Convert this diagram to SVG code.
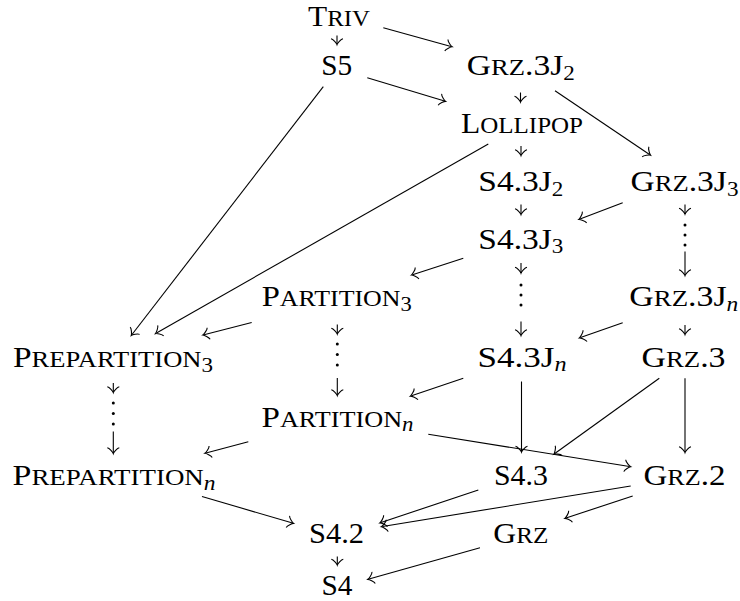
<svg xmlns="http://www.w3.org/2000/svg" width="740" height="601" viewBox="0 0 740 601">
<defs>
<style>
text{font-family:"Liberation Serif","Times New Roman",serif;font-size:29px;fill:#000;text-anchor:middle}
.sc{font-size:23px}
.sub{font-size:20px}
.it{font-style:italic}
#edges line{stroke:#000;stroke-width:1.1;fill:none;marker-end:url(#to)}
.dots circle{fill:#000}
</style>
<marker id="to" markerUnits="userSpaceOnUse" viewBox="-7 -8 10 16" refX="0" refY="0" markerWidth="10" markerHeight="16" orient="auto" overflow="visible">
<path d="M-4.8,-6 C-4.4,-3.8 0,-0.4 1.2,0 C0,0.4 -4.4,3.8 -4.8,6" fill="none" stroke="#000" stroke-width="1.1"/>
</marker>
</defs>
<g id="edges">
<line x1="337" y1="35.5" x2="337" y2="43.5"/>
<line x1="383.3" y1="27.7" x2="451" y2="46.5"/>
<line x1="367.3" y1="77.7" x2="444.5" y2="101"/>
<line x1="323.3" y1="86.7" x2="132" y2="334.5"/>
<line x1="520.5" y1="92.5" x2="520.5" y2="101"/>
<line x1="555" y1="90.7" x2="649.5" y2="154.5"/>
<line x1="521" y1="146" x2="521" y2="154.5"/>
<line x1="488.3" y1="144" x2="156.5" y2="333"/>
<line x1="521" y1="204.5" x2="521" y2="213.5"/>
<line x1="622.7" y1="202.7" x2="580" y2="219"/>
<line x1="685" y1="204.5" x2="685" y2="213"/>
<line x1="685" y1="251.5" x2="685" y2="274.5"/>
<line x1="521" y1="263" x2="521" y2="272"/>
<line x1="521" y1="321.5" x2="521" y2="334.5"/>
<line x1="463.3" y1="258.3" x2="412.5" y2="274.7"/>
<line x1="251.7" y1="322.5" x2="204" y2="334.7"/>
<line x1="337.3" y1="324.5" x2="337.3" y2="333"/>
<line x1="337.3" y1="378" x2="337.3" y2="394.5"/>
<line x1="622.7" y1="322.7" x2="580.5" y2="337.5"/>
<line x1="685" y1="325" x2="685" y2="333.5"/>
<line x1="113.3" y1="383" x2="113.3" y2="391.5"/>
<line x1="113.3" y1="431.5" x2="113.3" y2="452.5"/>
<line x1="463.3" y1="378.3" x2="411.5" y2="395.7"/>
<line x1="521.5" y1="381.5" x2="521.5" y2="451"/>
<line x1="659.3" y1="378.3" x2="554.8" y2="453.5"/>
<line x1="685" y1="378.3" x2="685" y2="451.5"/>
<line x1="428.3" y1="434.3" x2="629.5" y2="466.5"/>
<line x1="248.3" y1="441.7" x2="206" y2="453"/>
<line x1="202" y1="496.5" x2="292.5" y2="523"/>
<line x1="478.3" y1="490" x2="381" y2="522.5"/>
<line x1="630.7" y1="486" x2="382.5" y2="526.5"/>
<line x1="632.7" y1="496" x2="566" y2="518"/>
<line x1="337.3" y1="556.5" x2="337.3" y2="564"/>
<line x1="480" y1="547.7" x2="369" y2="579"/>
</g>
<g id="vdots-grz3j" class="dots"><circle cx="685" cy="225" r="1.5"/><circle cx="685" cy="235" r="1.5"/><circle cx="685" cy="245" r="1.5"/></g>
<g id="vdots-s43j" class="dots"><circle cx="521" cy="285" r="1.5"/><circle cx="521" cy="295" r="1.5"/><circle cx="521" cy="305" r="1.5"/></g>
<g id="vdots-partition" class="dots"><circle cx="337.3" cy="344" r="1.5"/><circle cx="337.3" cy="354.5" r="1.5"/><circle cx="337.3" cy="365" r="1.5"/></g>
<g id="vdots-prepartition" class="dots"><circle cx="113.3" cy="403" r="1.5"/><circle cx="113.3" cy="413.5" r="1.5"/><circle cx="113.3" cy="424" r="1.5"/></g>
<g id="triv"><text x="339" y="26" textLength="62" lengthAdjust="spacingAndGlyphs">T<tspan class="sc">RIV</tspan></text></g>
<g id="s5"><text x="336.7" y="75" textLength="31" lengthAdjust="spacingAndGlyphs">S5</text></g>
<g id="grz3j2"><text x="520.8" y="75" textLength="108" lengthAdjust="spacingAndGlyphs">G<tspan class="sc">RZ</tspan>.3J<tspan class="sub" dy="4.5">2</tspan></text></g>
<g id="lollipop"><text x="522" y="133" textLength="122" lengthAdjust="spacingAndGlyphs">L<tspan class="sc">OLLIPOP</tspan></text></g>
<g id="s43j2"><text x="520.8" y="191" textLength="85" lengthAdjust="spacingAndGlyphs">S4.3J<tspan class="sub" dy="4.5">2</tspan></text></g>
<g id="grz3j3"><text x="684.5" y="191" textLength="108" lengthAdjust="spacingAndGlyphs">G<tspan class="sc">RZ</tspan>.3J<tspan class="sub" dy="4.5">3</tspan></text></g>
<g id="s43j3"><text x="520.8" y="248.5" textLength="85" lengthAdjust="spacingAndGlyphs">S4.3J<tspan class="sub" dy="4.5">3</tspan></text></g>
<g id="partition3"><text x="336.7" y="306" textLength="150" lengthAdjust="spacingAndGlyphs">P<tspan class="sc">ARTITION</tspan><tspan class="sub" dy="4.5">3</tspan></text></g>
<g id="grz3jn"><text x="683.8" y="306" textLength="109" lengthAdjust="spacingAndGlyphs">G<tspan class="sc">RZ</tspan>.3J<tspan class="sub it" dy="4.5">n</tspan></text></g>
<g id="prepartition3"><text x="113" y="367" textLength="200" lengthAdjust="spacingAndGlyphs">P<tspan class="sc">REPARTITION</tspan><tspan class="sub" dy="4.5">3</tspan></text></g>
<g id="s43jn"><text x="522" y="366.7" textLength="89" lengthAdjust="spacingAndGlyphs">S4.3J<tspan class="sub it" dy="4.5">n</tspan></text></g>
<g id="grz3"><text x="683.5" y="366.7" textLength="84" lengthAdjust="spacingAndGlyphs">G<tspan class="sc">RZ</tspan>.3</text></g>
<g id="partitionn"><text x="337.5" y="426.5" textLength="152" lengthAdjust="spacingAndGlyphs">P<tspan class="sc">ARTITION</tspan><tspan class="sub it" dy="4.5">n</tspan></text></g>
<g id="prepartitionn"><text x="114" y="485" textLength="203" lengthAdjust="spacingAndGlyphs">P<tspan class="sc">REPARTITION</tspan><tspan class="sub it" dy="4.5">n</tspan></text></g>
<g id="s43"><text x="521" y="485" textLength="54" lengthAdjust="spacingAndGlyphs">S4.3</text></g>
<g id="grz2"><text x="684.5" y="485" textLength="82" lengthAdjust="spacingAndGlyphs">G<tspan class="sc">RZ</tspan>.2</text></g>
<g id="s42"><text x="336.5" y="543.3" textLength="55" lengthAdjust="spacingAndGlyphs">S4.2</text></g>
<g id="grz"><text x="520.8" y="543.3" textLength="55" lengthAdjust="spacingAndGlyphs">G<tspan class="sc">RZ</tspan></text></g>
<g id="s4"><text x="337" y="595" textLength="31" lengthAdjust="spacingAndGlyphs">S4</text></g>
</svg>
